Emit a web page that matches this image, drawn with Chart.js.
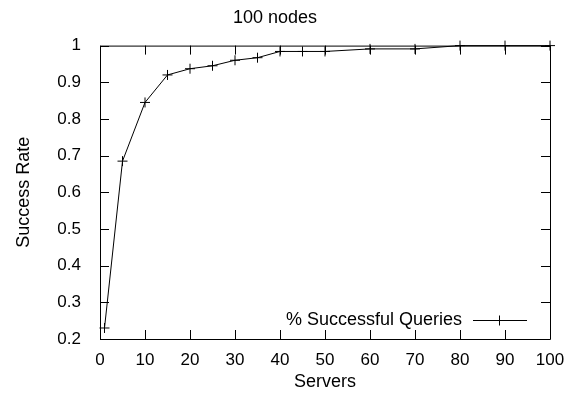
<!DOCTYPE html>
<html>
<head>
<meta charset="utf-8">
<script src="https://cdn.jsdelivr.net/npm/chart.js@4/dist/chart.umd.min.js"></script>
<style>
  body { margin: 0; background: #fff; }
  #wrap { width: 574px; height: 394px; }
</style>
</head>
<body>
<div id="wrap"><canvas id="chart" width="574" height="394"></canvas></div>
<script>
// Data
const servers = [1, 5, 10, 15, 20, 25, 30, 35, 40, 45, 50, 60, 70, 80, 90, 100];
const successRate = [0.23, 0.685, 0.845, 0.92, 0.937, 0.945, 0.96, 0.967, 0.984, 0.984, 0.984, 0.991, 0.991, 1, 1, 1];
const xTicks = [0, 10, 20, 30, 40, 50, 60, 70, 80, 90, 100];
const yTicks = [0.2, 0.3, 0.4, 0.5, 0.6, 0.7, 0.8, 0.9, 1];
const seriesLabel = '% Successful Queries';

const FONT = 'Liberation Sans, Arial, Helvetica, sans-serif';

// gnuplot-like frame with inward ticks on all four sides + key in the lower right
const framePlugin = {
    id: 'frame',
    afterDatasetsDraw(chart) {
        const { ctx, chartArea: a, scales } = chart;
        const len = 9;
        ctx.save();
        ctx.strokeStyle = '#000';
        ctx.lineWidth = 1;
        ctx.beginPath();
        ctx.rect(a.left + 0.5, a.top + 0.5, a.right - a.left, a.bottom - a.top);
        xTicks.forEach(v => {
            const px = Math.round(scales.x.getPixelForValue(v)) + 0.5;
            ctx.moveTo(px, a.bottom); ctx.lineTo(px, a.bottom - len);
            ctx.moveTo(px, a.top); ctx.lineTo(px, a.top + len);
        });
        yTicks.forEach(v => {
            const py = Math.round(scales.y.getPixelForValue(v)) + 0.5;
            ctx.moveTo(a.left, py); ctx.lineTo(a.left + len, py);
            ctx.moveTo(a.right, py); ctx.lineTo(a.right - len, py);
        });
        ctx.stroke();

        // key
        const ky = a.bottom - 18.5;
        ctx.font = '18px ' + FONT;
        ctx.fillStyle = '#000';
        ctx.textAlign = 'right';
        ctx.textBaseline = 'middle';
        ctx.fillText(seriesLabel, a.right - 88, ky);
        ctx.beginPath();
        ctx.moveTo(a.right - 77, ky); ctx.lineTo(a.right - 23, ky);
        ctx.moveTo(a.right - 50.5, ky - 5); ctx.lineTo(a.right - 50.5, ky + 5);
        ctx.stroke();
        ctx.restore();
    }
};

const ctx = document.getElementById('chart').getContext('2d');
new Chart(ctx, {
    type: 'line',
    data: {
        datasets: [{
            label: seriesLabel,
            data: servers.map((x, i) => ({ x: x, y: successRate[i] })),
            borderColor: '#000',
            backgroundColor: '#000',
            borderWidth: 1,
            pointStyle: 'cross',
            pointRadius: 5,
            pointBorderWidth: 1,
            pointBorderColor: '#000',
            tension: 0,
            clip: false
        }]
    },
    options: {
        responsive: false,
        animation: false,
        layout: { padding: { right: 24, left: 0, bottom: 0, top: 0 } },
        plugins: {
            legend: { display: false },
            tooltip: { enabled: false },
            title: {
                display: true,
                text: '100 nodes',
                color: '#000',
                font: { family: FONT, size: 18, weight: 'normal' },
                padding: { top: 7, bottom: 17 }
            }
        },
        scales: {
            x: {
                type: 'linear',
                min: 0,
                max: 100,
                afterBuildTicks: s => { s.ticks = xTicks.map(v => ({ value: v })); },
                afterFit: s => { s.height = 55; },
                grid: { display: false },
                border: { display: false },
                ticks: {
                    color: '#000',
                    padding: 3,
                    maxRotation: 0,
                    font: { family: FONT, size: 17 }
                },
                title: {
                    display: true,
                    text: 'Servers',
                    color: '#000',
                    font: { family: FONT, size: 18 },
                    padding: { top: 0, bottom: 1 }
                }
            },
            y: {
                type: 'linear',
                min: 0.2,
                max: 1,
                afterBuildTicks: s => { s.ticks = yTicks.map(v => ({ value: v })); },
                afterFit: s => { s.width = 100; },
                grid: { display: false },
                border: { display: false },
                ticks: {
                    color: '#000',
                    padding: 11,
                    font: { family: FONT, size: 17 },
                    callback: v => String(Math.round(v * 10) / 10)
                },
                title: {
                    display: true,
                    text: 'Success Rate',
                    color: '#000',
                    font: { family: FONT, size: 18 },
                    padding: { top: 13, bottom: 0 }
                }
            }
        }
    },
    plugins: [framePlugin]
});
</script>
</body>
</html>
